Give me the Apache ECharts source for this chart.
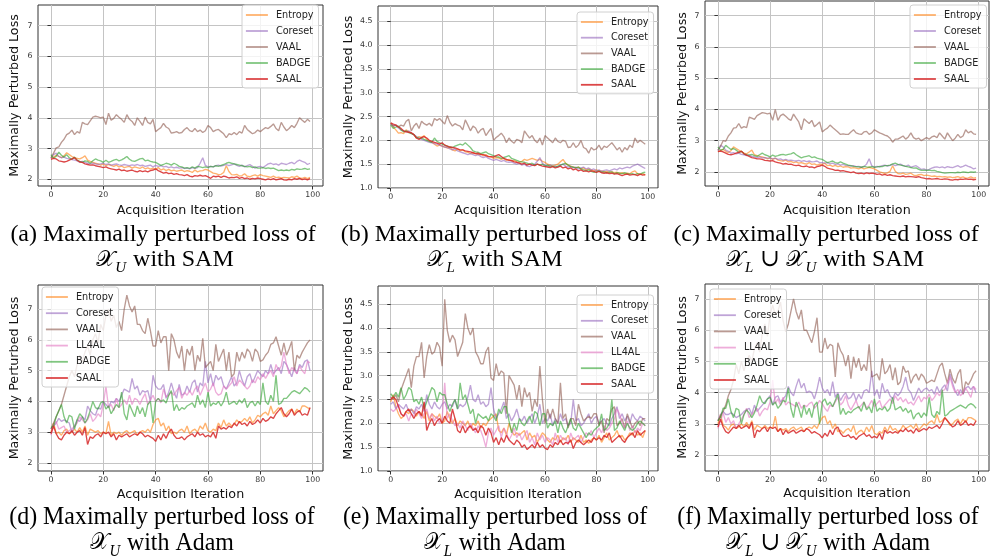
<!DOCTYPE html>
<html>
<head>
<meta charset="utf-8">
<script src="https://cdn.jsdelivr.net/npm/echarts@6/dist/echarts.min.js"></script>
<style>
  html, body { margin: 0; padding: 0; background: #fff; }
  #chart { width: 990px; height: 558px; }
</style>
</head>
<body>
<div id="chart"></div>
<script>
// tick values
const xTicks = [0, 20, 40, 60, 80, 100]
const yTicksWide = [2, 3, 4, 5, 6, 7]
const yTicksL = [1.0, 1.5, 2.0, 2.5, 3.0, 3.5, 4.0, 4.5]

// (a) X_U with SAM
const entA = [2.70,2.72,2.78,2.74,2.70,2.76,2.86,2.80,2.74,2.70, 2.68,2.66,2.70,2.76,2.62,2.58,2.55,2.52,2.50,2.46, 2.50,2.44,2.48,2.45,2.42,2.46,2.40,2.43,2.38,2.40, 2.42,2.36,2.40,2.38,2.35,2.40,2.34,2.37,2.33,2.36, 2.32,2.38,2.30,2.34,2.28,2.32,2.27,2.30,2.26,2.28, 2.30,2.25,2.28,2.26,2.22,2.30,2.24,2.27,2.28,2.32, 2.30,2.25,2.20,2.18,2.15,2.16,2.22,2.44,2.25,2.15, 2.14,2.16,2.10,2.12,2.18,2.10,2.08,2.12,2.14,2.10, 2.15,2.12,2.10,2.08,2.06,2.10,2.05,2.07,2.04,2.06, 2.05,2.04,2.08,2.06,2.10,2.04,2.03,2.06,2.02,2.06]
const corA = [2.68,2.80,2.85,2.74,2.70,2.72,2.68,2.66,2.64,2.62, 2.60,2.56,2.58,2.55,2.52,2.50,2.52,2.50,2.48,2.50, 2.52,2.48,2.50,2.46,2.48,2.50,2.47,2.45,2.48,2.46, 2.44,2.47,2.45,2.48,2.44,2.46,2.42,2.44,2.46,2.40, 2.45,2.42,2.44,2.40,2.42,2.38,2.40,2.37,2.39,2.36, 2.38,2.35,2.36,2.34,2.38,2.35,2.38,2.52,2.70,2.45, 2.40,2.42,2.40,2.44,2.46,2.43,2.45,2.48,2.44,2.47, 2.50,2.45,2.42,2.46,2.40,2.44,2.48,2.42,2.36,2.40, 2.42,2.38,2.44,2.50,2.52,2.48,2.50,2.46,2.52,2.50, 2.48,2.52,2.55,2.50,2.58,2.62,2.58,2.55,2.48,2.52]
const vaalA = [2.70,2.85,3.02,3.05,3.20,3.30,3.45,3.50,3.60,3.45, 3.55,3.50,3.85,3.80,3.78,3.90,4.02,4.05,4.03,4.00, 4.02,3.78,4.15,3.92,3.98,4.10,4.02,3.95,3.85,4.10, 3.95,3.88,3.75,4.00,3.88,3.75,4.02,3.85,3.80,3.95, 3.55,3.62,3.68,3.82,3.70,3.65,3.50,3.52,3.55,3.50, 3.52,3.62,3.68,3.58,3.55,3.65,3.55,3.60,3.52,3.58, 3.75,3.68,3.55,3.60,3.62,3.55,3.48,3.35,3.48,3.45, 3.52,3.45,3.55,3.50,3.75,3.62,3.55,3.48,3.52,3.60, 3.55,3.62,3.68,3.65,3.72,3.80,3.65,3.58,3.85,3.70, 3.58,3.65,3.75,3.68,3.82,4.00,3.92,3.85,3.95,3.88]
const badA = [2.80,2.68,2.75,2.88,2.78,2.72,2.80,2.70,2.65,2.72, 2.62,2.58,2.55,2.60,2.58,2.52,2.60,2.66,2.62,2.60, 2.55,2.62,2.55,2.58,2.62,2.65,2.60,2.63,2.68,2.74, 2.65,2.60,2.58,2.62,2.66,2.68,2.60,2.62,2.58,2.56, 2.55,2.50,2.45,2.48,2.52,2.50,2.46,2.52,2.48,2.42, 2.40,2.36,2.38,2.35,2.40,2.36,2.42,2.40,2.38,2.40, 2.38,2.42,2.40,2.44,2.42,2.45,2.48,2.52,2.55,2.52, 2.50,2.48,2.46,2.44,2.42,2.40,2.42,2.38,2.40,2.36, 2.36,2.38,2.35,2.37,2.35,2.36,2.32,2.28,2.30,2.28, 2.30,2.28,2.32,2.30,2.34,2.32,2.33,2.35,2.32,2.34]
const saalA = [2.65,2.68,2.66,2.60,2.58,2.56,2.58,2.62,2.66,2.70, 2.62,2.56,2.55,2.50,2.48,2.46,2.47,2.44,2.42,2.40, 2.38,2.40,2.36,2.34,2.32,2.30,2.33,2.28,2.30,2.26, 2.28,2.30,2.26,2.24,2.28,2.25,2.27,2.24,2.28,2.30, 2.34,2.28,2.24,2.20,2.22,2.18,2.20,2.16,2.18,2.15, 2.14,2.12,2.15,2.10,2.08,2.12,2.10,2.13,2.10,2.12, 2.08,2.03,2.10,2.08,2.10,2.06,2.10,2.08,2.04,2.06, 2.05,2.08,2.03,2.06,2.02,2.04,2.00,2.03,2.01,2.04, 2.02,2.00,1.98,2.01,1.99,2.02,1.98,2.00,2.02,1.98, 1.97,2.00,1.98,2.02,2.00,2.03,1.99,2.01,1.98,2.02]

// (b) X_L with SAM
const entB = [2.36,2.28,2.22,2.15,2.16,2.14,2.22,2.18,2.15,2.12, 2.05,2.08,2.06,2.10,2.02,1.98,1.96,1.92,1.88,1.90, 1.88,1.86,1.84,1.85,1.80,1.78,1.82,1.78,1.80,1.76, 1.75,1.72,1.74,1.72,1.70,1.72,1.68,1.70,1.66,1.65, 1.62,1.64,1.63,1.60,1.62,1.58,1.60,1.56,1.58,1.55, 1.54,1.56,1.60,1.58,1.60,1.62,1.60,1.58,1.60,1.56, 1.54,1.50,1.48,1.46,1.48,1.50,1.55,1.60,1.52,1.48, 1.46,1.44,1.42,1.44,1.40,1.42,1.38,1.40,1.38,1.36, 1.38,1.35,1.36,1.34,1.35,1.33,1.34,1.32,1.33,1.31, 1.32,1.30,1.31,1.30,1.34,1.36,1.30,1.28,1.30,1.27]
const corB = [2.34,2.30,2.32,2.26,2.22,2.20,2.18,2.20,2.15,2.12, 2.08,2.05,2.02,2.00,1.98,1.96,1.95,1.93,1.92,1.90, 1.88,1.86,1.85,1.82,1.80,1.82,1.78,1.76,1.74,1.72, 1.70,1.72,1.70,1.68,1.70,1.66,1.64,1.66,1.62,1.60, 1.58,1.60,1.58,1.56,1.58,1.55,1.54,1.55,1.52,1.50, 1.52,1.48,1.50,1.46,1.45,1.48,1.50,1.56,1.64,1.52, 1.48,1.46,1.48,1.45,1.46,1.44,1.48,1.50,1.46,1.44, 1.45,1.42,1.44,1.40,1.42,1.44,1.40,1.42,1.38,1.40, 1.36,1.38,1.35,1.37,1.38,1.36,1.38,1.40,1.38,1.42, 1.40,1.42,1.44,1.42,1.46,1.48,1.50,1.47,1.44,1.41]
const vaalB = [2.36,2.30,2.32,2.28,2.32,2.30,2.40,2.44,2.20,2.30, 2.36,2.25,2.40,2.35,2.32,2.36,2.30,2.46,2.42,2.46, 2.40,2.34,2.52,2.38,2.30,2.35,2.32,2.30,2.22,2.43, 2.32,2.20,2.30,2.26,2.15,2.22,2.25,2.10,2.18,2.25, 2.00,2.06,2.10,2.15,2.08,1.95,2.05,1.98,1.94,2.02, 2.00,1.95,2.20,2.12,2.05,2.10,2.00,1.95,2.05,1.90, 2.10,2.05,2.00,1.95,2.05,1.98,1.95,2.00,1.98,1.85, 1.86,1.95,1.85,1.90,2.00,1.85,1.82,1.73,1.85,1.80, 1.82,1.90,1.80,1.88,1.85,1.90,1.95,1.88,1.80,1.85, 1.75,1.85,1.80,1.90,1.85,2.05,1.95,2.00,1.96,1.92]
const badB = [2.32,2.25,2.28,2.30,2.22,2.18,2.20,2.16,2.14,2.12, 2.06,2.04,2.05,2.02,2.00,1.98,1.96,2.05,1.98,1.95, 1.92,1.90,1.88,1.86,1.85,1.88,1.90,1.92,1.90,1.95, 1.90,1.85,1.78,1.76,1.75,1.72,1.74,1.76,1.72,1.70, 1.68,1.66,1.65,1.62,1.64,1.66,1.68,1.62,1.60,1.58, 1.56,1.55,1.54,1.52,1.50,1.52,1.48,1.50,1.48,1.50, 1.46,1.48,1.45,1.46,1.44,1.46,1.48,1.50,1.52,1.48, 1.45,1.44,1.42,1.44,1.40,1.38,1.36,1.38,1.35,1.33, 1.34,1.36,1.33,1.34,1.32,1.33,1.34,1.30,1.32,1.31, 1.30,1.32,1.30,1.29,1.30,1.28,1.30,1.29,1.32,1.33]
const saalB = [2.37,2.34,2.32,2.28,2.25,2.20,2.18,2.17,2.16,2.12, 2.05,2.02,2.06,2.08,2.05,2.00,1.98,1.96,1.94,1.92, 1.95,1.90,1.88,1.86,1.85,1.84,1.82,1.80,1.80,1.78, 1.77,1.76,1.74,1.72,1.73,1.70,1.70,1.68,1.66,1.66, 1.65,1.68,1.70,1.66,1.62,1.60,1.58,1.58,1.55,1.54, 1.52,1.50,1.52,1.48,1.50,1.48,1.47,1.50,1.48,1.46, 1.45,1.44,1.43,1.45,1.42,1.44,1.46,1.42,1.44,1.40, 1.42,1.38,1.40,1.36,1.38,1.35,1.36,1.34,1.36,1.35, 1.33,1.35,1.32,1.31,1.32,1.30,1.31,1.29,1.30,1.28, 1.26,1.28,1.29,1.27,1.28,1.28,1.26,1.29,1.27,1.28]

// (c) X_L u X_U with SAM
const entC = [2.65,2.68,2.72,2.66,2.62,2.68,2.80,2.75,2.70,2.66, 2.60,2.58,2.64,2.70,2.55,2.52,2.50,2.48,2.46,2.42, 2.45,2.40,2.44,2.38,2.36,2.35,2.38,2.32,2.34,2.30, 2.32,2.28,2.30,2.27,2.25,2.30,2.24,2.26,2.22,2.25, 2.24,2.28,2.20,2.22,2.18,2.21,2.17,2.19,2.15,2.17, 2.16,2.12,2.14,2.12,2.10,2.14,2.10,2.12,2.15,2.12, 2.10,2.05,2.00,1.98,1.95,1.97,2.02,2.20,2.02,1.95, 1.94,1.96,1.92,1.94,1.96,1.90,1.88,1.91,1.92,1.88, 1.90,1.88,1.86,1.87,1.85,1.86,1.84,1.85,1.83,1.84, 1.82,1.83,1.85,1.82,1.84,1.80,1.81,1.84,1.80,1.82]
const corC = [2.68,2.85,2.80,2.70,2.66,2.60,2.62,2.58,2.60,2.56, 2.55,2.52,2.54,2.50,2.48,2.46,2.48,2.45,2.46,2.44, 2.45,2.42,2.44,2.40,2.42,2.38,2.40,2.37,2.38,2.36, 2.35,2.37,2.34,2.36,2.33,2.35,2.32,2.33,2.35,2.30, 2.30,2.28,2.30,2.26,2.28,2.24,2.26,2.22,2.24,2.21, 2.20,2.19,2.20,2.17,2.18,2.15,2.17,2.25,2.42,2.20, 2.15,2.18,2.16,2.20,2.22,2.19,2.21,2.24,2.20,2.23, 2.25,2.20,2.18,2.22,2.15,2.18,2.20,2.14,2.08,2.10, 2.06,2.08,2.12,2.15,2.16,2.14,2.16,2.13,2.17,2.15, 2.14,2.17,2.20,2.15,2.18,2.22,2.18,2.15,2.10,2.12]
const vaalC = [2.70,2.82,3.00,2.98,3.15,3.25,3.40,3.42,3.55,3.40, 3.45,3.42,3.75,3.72,3.68,3.80,3.85,3.90,3.88,3.86, 3.88,3.65,4.00,3.65,3.80,3.85,3.78,3.70,3.65,3.85, 3.72,3.60,3.35,3.70,3.62,3.55,3.65,3.45,3.52,3.60, 3.28,3.35,3.40,3.50,3.42,3.35,3.28,3.20,3.22,3.20, 3.20,3.28,3.35,3.25,3.22,3.20,3.28,3.30,3.20,3.25, 3.35,3.30,3.25,3.22,3.18,3.15,3.08,2.95,3.05,3.05, 3.10,3.15,3.05,3.12,3.25,3.10,3.05,3.08,3.00,3.05, 3.10,3.05,3.12,3.15,3.10,3.25,3.15,3.05,3.25,3.12, 3.00,3.08,3.20,3.10,3.15,3.35,3.25,3.30,3.22,3.20]
const badC = [2.80,2.70,2.72,2.85,2.78,2.72,2.75,2.70,2.62,2.66, 2.58,2.55,2.54,2.56,2.52,2.50,2.55,2.60,2.55,2.52, 2.48,2.54,2.50,2.52,2.55,2.56,2.54,2.56,2.58,2.62, 2.55,2.50,2.45,2.48,2.50,2.52,2.46,2.48,2.44,2.42, 2.40,2.35,2.30,2.32,2.35,2.30,2.28,2.32,2.28,2.25, 2.22,2.20,2.18,2.17,2.16,2.15,2.18,2.16,2.15,2.17, 2.15,2.16,2.18,2.17,2.20,2.20,2.22,2.26,2.28,2.24, 2.22,2.20,2.18,2.16,2.14,2.12,2.13,2.08,2.05,2.06, 2.05,2.06,2.04,2.05,2.02,2.00,1.98,1.96,1.97,1.98, 1.98,1.97,1.99,1.98,2.00,1.99,1.98,2.00,1.99,2.00]
const saalC = [2.65,2.67,2.64,2.60,2.56,2.55,2.57,2.60,2.63,2.66, 2.58,2.54,2.50,2.46,2.44,2.42,2.42,2.40,2.37,2.36, 2.35,2.36,2.32,2.30,2.28,2.25,2.27,2.24,2.25,2.22, 2.20,2.22,2.18,2.17,2.19,2.15,2.16,2.13,2.17,2.19, 2.22,2.18,2.12,2.10,2.08,2.05,2.06,2.03,2.04,2.02, 2.00,1.98,2.00,1.96,1.95,1.96,1.94,1.97,1.95,1.96, 1.95,1.92,1.94,1.90,1.92,1.89,1.91,1.88,1.87,1.86, 1.85,1.87,1.84,1.86,1.85,1.84,1.83,1.85,1.82,1.80, 1.78,1.79,1.77,1.78,1.79,1.77,1.76,1.78,1.77,1.75, 1.74,1.76,1.75,1.77,1.76,1.78,1.76,1.77,1.75,1.76]

// (d) X_U with Adam
const entD = [3.0,3.3,2.95,3.0,2.9,3.05,3.1,2.95,3.0,3.1, 3.0,3.15,3.0,3.2,2.9,3.1,3.05,3.0,3.05,2.95, 3.0,2.95,3.35,2.9,3.0,2.95,3.0,2.9,3.0,3.05, 2.95,3.0,3.05,2.9,3.0,3.05,3.0,3.1,3.0,3.25, 3.4,3.45,3.2,3.3,3.05,3.2,2.95,3.0,2.95,3.05, 3.1,3.0,3.2,2.95,3.05,3.1,3.0,3.2,3.1,3.3, 3.05,3.0,3.1,3.05,3.3,3.15,3.4,3.2,3.3,3.2, 3.25,3.4,3.3,3.35,3.45,3.35,3.5,3.3,3.4,3.55, 3.5,3.6,3.65,3.55,3.85,3.6,3.7,3.8,3.7,3.5, 3.6,3.7,3.75,3.6,3.75,3.65,3.85,3.85,3.8,3.75]
const corD = [3.1,3.2,3.3,3.45,3.35,3.4,3.35,3.3,3.0,3.2, 3.4,3.35,3.5,3.4,3.85,3.7,3.6,3.55,3.8,3.75, 4.0,3.9,3.8,4.0,3.95,4.1,4.0,4.2,4.4,4.35, 4.3,4.75,4.4,4.5,4.2,4.35,4.3,4.35,4.0,4.85, 4.5,4.4,4.4,4.55,4.1,4.3,4.6,4.3,4.1,4.55, 4.2,4.25,4.5,4.3,4.6,4.7,4.3,4.6,4.5,5.3, 4.6,4.9,4.5,4.85,4.7,4.8,4.5,4.4,4.6,4.8, 4.5,4.6,5.0,4.7,4.5,4.8,4.9,4.6,4.8,5.0, 4.9,4.8,5.0,4.9,5.2,4.9,5.0,5.1,4.9,5.3, 5.2,5.0,4.8,5.1,4.9,5.2,5.1,5.3,5.35,5.0]
const vaalD = [3.1,3.3,3.5,3.7,3.9,4.2,4.5,4.8,5.0,4.8, 5.2,5.5,5.3,5.6,5.8,5.5,6.0,6.2,5.9,6.5, 6.3,6.8,7.0,6.6,6.8,6.4,6.6,6.3,7.0,7.45, 7.1,6.9,7.1,6.5,6.5,6.3,6.2,6.7,6.3,5.8, 5.8,6.3,5.9,6.1,6.1,5.0,6.2,6.0,5.6,5.4, 5.8,5.0,5.7,5.5,5.8,5.0,5.5,5.3,6.05,5.1, 5.2,5.3,5.0,5.85,5.3,5.5,5.7,5.0,5.6,4.8, 4.9,5.6,5.3,5.6,5.4,5.7,5.6,5.3,5.7,5.6, 5.3,5.35,5.5,5.6,5.85,5.9,6.1,5.8,5.5,5.9, 5.5,5.7,5.95,5.0,5.5,5.4,5.6,5.75,5.9,6.0]
const llD = [2.9,3.2,3.35,3.1,3.15,3.2,3.0,3.05,3.1,3.2, 3.3,3.5,3.4,3.3,3.4,3.6,3.35,3.45,3.6,3.5, 3.9,4.5,3.8,3.9,3.7,4.1,3.8,3.9,4.05,3.9, 4.2,3.9,4.1,4.05,3.9,4.1,4.25,3.9,4.05,4.2, 4.0,4.1,3.95,4.4,4.15,4.2,4.3,4.2,4.35,4.45, 4.1,4.3,4.2,4.35,4.2,4.4,4.5,4.2,4.4,4.6, 4.3,4.4,4.6,4.3,4.2,4.25,4.5,4.4,4.5,4.6, 4.8,4.5,4.7,4.6,4.5,4.4,4.5,4.7,4.6,4.8, 4.7,4.9,4.75,4.9,5.0,4.8,5.2,5.0,5.15,5.6, 5.2,4.9,5.1,5.0,4.9,5.15,5.0,4.9,5.3,5.25]
const badD = [3.15,3.2,3.5,3.7,3.9,3.5,3.3,3.55,3.5,3.1, 3.4,3.6,3.5,3.3,3.45,3.7,4.0,3.8,3.75,3.95, 4.0,3.75,3.85,3.6,3.75,3.9,3.8,4.3,3.6,3.4, 3.9,3.7,3.5,3.85,3.6,3.8,3.5,3.9,4.0,3.3, 4.0,4.1,4.0,4.05,3.95,4.2,4.35,3.7,3.9,3.7, 3.8,3.75,3.85,3.9,3.95,3.8,4.2,3.9,4.05,3.8, 4.3,3.85,3.95,3.9,4.0,3.85,4.0,4.3,3.9,3.95, 4.0,3.9,4.05,3.95,4.1,3.8,3.95,4.0,3.85,4.0, 3.9,4.6,4.0,3.9,4.2,4.0,4.85,3.9,3.95,4.1, 4.1,4.2,4.3,4.35,4.3,4.25,4.35,4.45,4.4,4.3]
const saalD = [2.95,3.2,2.95,2.8,2.75,2.9,3.0,2.95,3.05,2.9, 3.0,3.05,2.9,3.15,2.6,2.85,2.8,2.9,2.95,2.85, 3.0,2.95,3.0,2.85,2.95,2.75,2.9,2.85,2.9,2.95, 2.85,2.9,2.95,2.9,3.0,2.95,2.85,2.9,2.85,2.8, 2.7,2.9,2.75,2.95,2.8,3.0,3.1,2.9,2.8,2.8, 2.85,2.75,2.85,2.9,2.95,2.85,3.0,2.9,2.95,2.85, 2.9,2.85,3.0,2.8,3.2,3.1,3.15,3.1,3.2,3.15, 3.3,3.2,3.35,3.25,3.3,3.2,3.35,3.25,3.3,3.4, 3.3,3.45,3.35,3.4,3.5,3.45,3.6,3.7,3.8,3.6, 3.5,3.6,3.75,3.55,3.65,3.7,3.55,3.6,3.55,3.8]

// (e) X_L with Adam
const entE = [2.45,2.6,2.35,2.2,2.1,2.15,2.25,2.2,2.3,2.25, 2.15,2.25,2.2,2.1,2.25,2.05,2.2,2.15,2.1,2.2, 2.0,2.05,2.25,2.1,2.0,2.1,1.95,2.05,2.0,1.95, 2.05,1.9,2.0,1.95,2.05,1.9,2.0,1.95,2.05,2.1, 2.15,2.2,1.85,1.8,1.9,1.75,2.0,1.85,1.75,1.8, 1.75,1.8,1.85,1.65,1.8,1.7,1.75,1.6,1.7,1.8, 1.75,1.65,1.6,1.7,1.65,1.75,1.6,1.7,1.65,1.75, 1.6,1.7,1.65,1.6,1.75,1.6,1.65,1.58,1.65,1.7, 1.65,1.75,1.6,1.7,1.8,1.65,1.7,1.75,1.85,1.7, 1.75,1.65,1.7,1.8,1.75,1.85,1.75,1.8,1.7,1.85]
const corE = [2.4,2.45,2.3,2.4,2.35,2.3,2.4,2.25,2.3,2.2, 2.35,2.3,2.4,2.25,2.6,2.4,2.3,2.45,2.35,2.3, 2.4,2.45,2.3,2.4,2.35,2.5,2.3,2.4,2.35,2.4, 2.55,2.8,2.5,2.45,2.6,2.4,2.45,2.35,2.4,2.75, 2.3,2.1,2.2,2.3,2.45,2.1,2.2,2.05,2.15,2.3, 2.1,2.05,2.15,2.0,2.1,2.2,2.0,2.15,2.4,2.0, 2.1,2.05,2.2,1.95,2.1,2.0,2.2,2.05,2.1,1.95, 2.0,2.5,2.05,2.1,1.95,2.0,2.1,2.2,2.0,2.1, 2.15,2.0,2.05,2.1,2.0,1.95,2.1,2.2,2.35,2.1, 2.2,2.05,2.15,2.0,2.2,2.1,2.05,2.15,2.1,2.05]
const vaalE = [2.55,2.5,2.6,2.45,2.7,2.85,3.0,3.15,2.75,3.2, 3.4,3.4,3.7,2.95,3.4,3.65,3.45,3.5,3.7,3.6, 3.2,4.6,3.95,3.7,3.85,3.75,3.4,3.55,3.7,4.3, 4.0,3.85,4.0,3.5,3.4,3.25,3.25,3.5,3.6,2.95, 2.9,3.25,3.0,3.1,3.05,2.2,3.0,2.9,2.8,2.5, 2.8,2.35,2.75,2.55,2.65,2.25,2.5,2.35,3.2,2.5, 2.0,2.3,2.1,2.3,2.1,2.0,2.85,2.1,2.2,1.9, 2.1,2.1,1.95,2.4,2.2,2.05,2.1,2.15,2.1,2.2, 2.2,1.95,2.05,1.8,2.1,2.05,2.3,2.35,1.95,2.0, 2.1,1.9,2.2,2.05,1.9,2.0,2.05,1.95,2.1,2.1]
const llE = [2.3,2.25,2.3,2.4,2.2,2.15,2.2,2.05,2.2,2.15, 2.3,2.2,2.1,2.2,2.3,2.1,2.2,2.05,2.15,2.0, 2.1,2.85,2.1,2.2,2.05,1.95,2.0,1.9,2.05,1.95, 1.85,2.0,1.9,1.8,1.95,1.85,1.7,1.5,1.8,1.9, 1.75,1.85,1.95,1.7,1.9,1.8,1.65,1.75,1.9,1.7, 1.8,1.65,1.75,1.85,1.6,1.7,1.55,1.8,1.65,1.75, 1.6,1.7,1.65,1.55,1.8,1.6,1.75,1.65,1.7,1.55, 1.8,1.65,1.7,1.75,1.6,1.7,1.8,1.75,1.85,1.7, 1.8,1.9,1.8,1.95,1.85,1.9,2.0,2.1,2.3,2.2, 2.0,1.9,2.05,1.85,1.95,1.8,1.9,1.85,2.0,1.95]
const badE = [2.62,2.55,2.65,2.55,2.75,2.5,2.6,2.75,2.7,2.45, 2.5,2.4,2.55,2.3,2.45,2.6,2.75,2.7,2.45,2.65, 2.6,2.6,2.4,2.25,2.4,2.5,2.3,2.85,2.5,2.6, 2.4,2.2,2.3,2.0,2.2,2.15,2.1,2.15,2.05,2.2, 2.15,2.05,2.3,2.2,2.35,2.35,2.05,1.8,2.0,1.85, 2.1,2.0,1.95,2.05,2.15,2.0,2.25,2.2,1.95,2.2, 2.2,1.9,2.0,1.95,2.05,1.8,2.05,1.9,1.8,1.95, 2.1,1.9,1.85,2.0,1.9,1.8,1.7,1.8,1.75,1.85, 1.9,1.95,2.2,1.85,1.9,2.0,2.5,1.85,1.9,2.05, 1.95,1.85,2.0,1.9,1.85,1.9,2.0,2.05,2.0,1.95]
const saalE = [2.5,2.55,2.5,2.35,2.2,2.15,2.25,2.3,2.2,2.1, 2.2,2.25,2.15,2.45,1.85,2.0,2.1,1.95,2.05,2.1, 2.0,2.15,2.05,2.0,2.3,2.1,1.85,1.8,1.95,1.8, 1.9,1.95,1.85,1.9,1.8,1.95,1.9,1.75,1.9,1.8, 1.6,1.7,1.55,1.7,1.6,1.75,1.65,1.6,1.55,1.65, 1.6,1.5,1.55,1.45,1.5,1.55,1.48,1.6,1.5,1.55, 1.48,1.45,1.55,1.5,1.6,1.55,1.65,1.55,1.6,1.58, 1.65,1.47,1.6,1.65,1.6,1.55,1.6,1.65,1.6,1.7, 1.65,1.7,1.65,1.75,1.7,1.8,1.6,1.65,1.7,1.75, 1.65,1.6,1.7,1.75,1.8,1.7,1.85,1.75,1.8,1.85]

// (f) X_L u X_U with Adam
const entF = [3.0,3.3,2.95,2.9,2.8,2.95,3.0,2.85,2.9,3.0, 2.9,3.05,2.9,3.1,2.8,2.95,2.9,2.85,2.95,2.85, 2.9,2.85,3.25,2.75,2.85,2.8,2.85,2.75,2.85,2.9, 2.8,2.85,2.9,2.75,2.85,2.9,2.85,2.95,2.85,3.05, 3.2,3.25,3.0,3.1,2.85,3.0,2.75,2.8,2.7,2.8, 2.85,2.75,2.95,2.65,2.75,2.8,2.7,2.9,2.75,2.95, 2.7,2.65,2.75,2.7,2.9,2.75,2.95,2.8,2.85,2.75, 2.8,2.95,2.85,2.9,2.95,2.85,3.0,2.8,2.9,3.0, 2.95,3.05,3.1,3.0,3.3,3.05,3.1,3.2,3.1,2.95, 3.0,3.1,3.15,3.0,3.15,3.05,3.2,3.2,3.15,3.1]
const corF = [3.1,3.3,3.4,3.3,3.3,3.35,3.3,3.2,3.25,3.3, 3.4,3.45,3.5,3.3,3.6,3.4,3.5,3.6,3.7,3.8, 3.9,3.6,3.85,3.9,3.7,3.8,3.9,4.2,4.0,3.9, 4.2,4.45,4.15,4.3,4.0,4.05,4.0,3.8,4.1,4.5, 4.15,4.0,4.1,3.9,4.35,3.85,4.0,3.75,3.9,4.0, 3.8,3.85,4.0,3.75,3.95,3.8,4.05,4.1,4.0,4.7, 3.9,4.1,3.8,4.3,4.0,4.1,3.9,3.8,4.0,3.9, 4.0,4.2,4.5,4.1,4.0,3.75,3.95,4.15,4.0,4.1, 4.15,4.05,4.1,3.95,4.2,4.0,4.15,4.25,4.05,4.6, 4.3,4.05,3.9,4.1,3.95,4.15,4.2,4.1,4.2,4.0]
const vaalF = [3.1,3.25,3.4,3.6,3.9,4.1,4.4,4.9,4.6,5.0, 4.7,5.0,5.2,5.0,5.4,5.6,5.3,5.9,6.2,5.8, 6.5,6.8,6.5,6.6,6.9,6.3,5.95,6.2,6.6,7.0, 6.6,6.35,6.65,6.0,6.0,5.8,5.6,5.95,6.4,5.3, 5.3,5.75,5.4,5.55,5.5,4.5,5.6,5.35,5.2,4.85, 5.2,4.45,5.15,4.8,5.1,4.7,4.9,4.7,5.55,4.5, 4.55,4.6,4.4,5.1,4.6,4.7,4.9,4.4,4.8,4.25, 4.35,4.85,4.65,4.7,4.3,4.5,4.6,4.4,4.6,4.5, 4.3,4.35,4.4,4.35,4.6,4.85,4.95,4.6,4.3,4.75, 4.45,4.3,4.6,4.75,3.95,4.35,4.25,4.4,4.6,4.7]
const llF = [2.85,3.1,3.35,3.05,3.2,3.0,3.1,2.85,3.0,3.15, 3.3,3.5,3.2,3.3,3.4,3.5,3.25,3.4,3.5,3.45, 3.7,4.4,3.65,3.8,3.6,3.85,3.6,3.7,3.65,3.6, 3.55,3.7,3.5,3.6,3.55,3.65,3.7,3.5,3.6,3.75, 3.65,3.5,3.4,3.6,3.55,3.7,3.85,3.6,3.7,3.9, 3.6,3.45,3.6,3.75,3.5,3.6,3.7,3.5,3.6,3.75, 3.55,3.65,3.75,3.5,3.6,3.7,3.8,3.65,3.9,3.75, 3.85,3.7,3.8,3.65,3.7,3.6,3.75,3.9,3.7,3.85, 3.8,3.95,3.75,3.85,4.0,3.9,4.05,4.1,4.3,4.5, 4.2,4.0,4.1,3.9,4.0,4.15,4.0,3.85,4.2,4.1]
const badF = [3.1,3.2,3.5,3.5,3.8,3.4,3.2,3.5,3.45,3.0, 3.3,3.45,3.35,3.2,3.35,3.6,3.9,3.7,3.65,3.8, 3.85,3.6,3.7,3.5,3.6,3.75,3.7,4.15,3.5,3.2, 3.7,3.5,3.2,3.6,3.3,3.5,3.2,3.6,3.7,3.0, 3.7,3.8,3.6,3.7,3.55,3.75,3.95,3.3,3.5,3.3, 3.4,3.35,3.45,3.5,3.55,3.4,3.7,3.45,3.55,3.35, 3.8,3.4,3.5,3.45,3.55,3.4,3.5,3.85,3.45,3.5, 3.55,3.4,3.5,3.35,3.45,3.15,3.3,3.35,3.2,3.35, 3.25,3.85,3.3,3.2,3.4,3.3,4.1,3.25,3.3,3.4, 3.45,3.5,3.55,3.6,3.55,3.5,3.6,3.65,3.6,3.5]
const saalF = [2.9,3.15,2.9,2.75,2.7,2.8,2.9,2.85,2.95,2.85, 2.9,2.95,2.85,3.05,2.55,2.8,2.75,2.85,2.9,2.75, 2.9,2.85,2.9,2.75,2.85,2.65,2.8,2.7,2.75,2.8, 2.7,2.75,2.8,2.75,2.85,2.8,2.7,2.75,2.7,2.65, 2.55,2.7,2.6,2.8,2.65,2.85,2.9,2.7,2.6,2.6, 2.65,2.55,2.6,2.5,2.6,2.65,2.7,2.6,2.65,2.55, 2.6,2.55,2.7,2.5,2.8,2.7,2.75,2.7,2.75,2.7, 2.8,2.75,2.85,2.75,2.8,2.7,2.85,2.75,2.8,2.85, 2.8,2.9,2.85,2.9,2.95,2.85,3.0,3.2,3.1,3.0, 2.9,2.95,3.1,2.95,3.0,3.1,2.95,3.0,2.95,3.1]

const COLORS = {
  Entropy: 'rgba(255,127,14,0.6)',
  Coreset: 'rgba(148,103,189,0.6)',
  VAAL: 'rgba(140,86,75,0.6)',
  LL4AL: 'rgba(227,119,194,0.6)',
  BADGE: 'rgba(44,160,44,0.6)',
  SAAL: 'rgba(214,39,40,0.85)'
}

const panels = [
  { grid: {left: 38, top: 5, width: 285, height: 181}, ymin: 1.78, ymax: 7.67, yticks: yTicksWide,
    legend: {left: 242, top: 5}, gap: 6, yGap: 17, xGap: 18,
    series: [['Entropy', entA], ['Coreset', corA], ['VAAL', vaalA], ['BADGE', badA], ['SAAL', saalA]] },
  { grid: {left: 378, top: 6, width: 280, height: 182}, ymin: 1.0, ymax: 4.82, yticks: yTicksL,
    legend: {left: 577, top: 12}, gap: 5.7, yGap: 23, xGap: 16,
    series: [['Entropy', entB], ['Coreset', corB], ['VAAL', vaalB], ['BADGE', badB], ['SAAL', saalB]] },
  { grid: {left: 705, top: 1, width: 284, height: 185}, ymin: 1.55, ymax: 7.47, yticks: yTicksWide,
    legend: {left: 910, top: 5}, gap: 6, yGap: 16, xGap: 18,
    series: [['Entropy', entC], ['Coreset', corC], ['VAAL', vaalC], ['BADGE', badC], ['SAAL', saalC]] },
  { grid: {left: 38, top: 285, width: 285, height: 186}, ymin: 1.74, ymax: 7.78, yticks: yTicksWide,
    legend: {left: 42, top: 287}, gap: 6.2, yGap: 17, xGap: 17,
    series: [['Entropy', entD], ['Coreset', corD], ['VAAL', vaalD], ['LL4AL', llD], ['BADGE', badD], ['SAAL', saalD]] },
  { grid: {left: 378, top: 286, width: 280, height: 185}, ymin: 1.0, ymax: 4.88, yticks: yTicksL,
    legend: {left: 577, top: 295}, gap: 5.8, yGap: 23, xGap: 17,
    series: [['Entropy', entE], ['Coreset', corE], ['VAAL', vaalE], ['LL4AL', llE], ['BADGE', badE], ['SAAL', saalE]] },
  { grid: {left: 705, top: 284, width: 284, height: 187}, ymin: 1.49, ymax: 7.48, yticks: yTicksWide,
    legend: {left: 710, top: 289}, gap: 6.2, yGap: 16, xGap: 16,
    series: [['Entropy', entF], ['Coreset', corF], ['VAAL', vaalF], ['LL4AL', llF], ['BADGE', badF], ['SAAL', saalF]] }
]

const tickFont = { fontSize: 7.8, color: '#333', fontFamily: 'DejaVu Sans' }
const nameFont = { fontSize: 12.7, color: '#111', fontFamily: 'DejaVu Sans' }

const grids = [], xAxes = [], yAxes = [], legends = [], series = []
panels.forEach((p, i) => {
  grids.push(Object.assign({ show: true, backgroundColor: '#fff', borderColor: '#333', borderWidth: 1 }, p.grid))
  xAxes.push({
    type: 'value', gridIndex: i, min: -4.95, max: 103.95,
    name: 'Acquisition Iteration', nameLocation: 'middle', nameGap: p.xGap, nameTextStyle: nameFont,
    axisLine: { show: false },
    axisTick: { show: true, length: 3.5, customValues: xTicks, lineStyle: { color: '#333' } },
    axisLabel: { customValues: xTicks, margin: 5, ...tickFont },
    splitLine: { show: true, lineStyle: { color: '#c4c4c4', width: 1 } }
  })
  yAxes.push({
    type: 'value', gridIndex: i, min: p.ymin, max: p.ymax,
    name: 'Maximally Perturbed Loss', nameLocation: 'middle', nameRotate: 90, nameGap: p.yGap, nameTextStyle: nameFont,
    axisLine: { show: false },
    axisTick: { show: true, length: 3.5, customValues: p.yticks, lineStyle: { color: '#333' } },
    axisLabel: { customValues: p.yticks, margin: 5.5, ...tickFont,
      formatter: v => (p.yticks === yTicksL ? v.toFixed(1) : String(v)) },
    splitLine: { show: true, lineStyle: { color: '#c4c4c4', width: 1 } }
  })
  legends.push({
    orient: 'vertical', left: p.legend.left, top: p.legend.top,
    data: p.series.map(s => s[0]),
    itemWidth: 22, itemHeight: 10, itemGap: p.gap,
    padding: [5, 5, 4, 3],
    backgroundColor: 'rgba(255,255,255,0.8)', borderColor: '#d0d0d0', borderWidth: 1, borderRadius: 3,
    itemStyle: { opacity: 0 },
    lineStyle: { width: 1.8 },
    textStyle: { fontSize: 9.7, color: '#222', fontFamily: 'DejaVu Sans', padding: [0, 0, 0, 3] },
    selectedMode: false
  })
  p.series.forEach(([name, vals]) => {
    series.push({
      name, type: 'line', xAxisIndex: i, yAxisIndex: i,
      data: vals.map((v, k) => [k, v]),
      symbol: 'none', silent: true,
      lineStyle: { width: 1.35, color: COLORS[name] },
      itemStyle: { color: COLORS[name] }
    })
  })
})

const capFamily = '"Liberation Serif", "DejaVu Serif", serif'
function caption(x, y, text, size, sx) {
  return { type: 'text', x: x, y: y, scaleX: sx || 1, silent: true,
    style: {
      text: text, align: 'center', verticalAlign: 'middle',
      fontFamily: capFamily, fontSize: size, fill: '#000',
      rich: {
        x: { fontFamily: '"DejaVu Sans", "DejaVu Serif", serif', fontSize: size - 2 },
        s: { fontFamily: capFamily, fontStyle: 'italic', fontSize: Math.round(size * 0.62), padding: [Math.round(size * 0.7), 1, 0, 0] }
      }
    } }
}

const option = {
  animation: false,
  backgroundColor: '#fff',
  grid: grids, xAxis: xAxes, yAxis: yAxes, legend: legends, series: series,
  graphic: [
    caption(163, 235, '(a) Maximally perturbed loss of', 24),
    caption(165, 260, '{x|𝒳}{s|U} with SAM', 24),
    caption(494, 235, '(b) Maximally perturbed loss of', 24),
    caption(495, 260, '{x|𝒳}{s|L} with SAM', 24),
    caption(826, 235, '(c) Maximally perturbed loss of', 24),
    caption(825, 260, '{x|𝒳}{s|L} ∪ {x|𝒳}{s|U} with SAM', 24),
    caption(162, 517, '(d) Maximally perturbed loss of', 26, 0.92),
    caption(162, 543, '{x|𝒳}{s|U} with Adam', 26, 0.92),
    caption(495, 517, '(e) Maximally perturbed loss of', 26, 0.92),
    caption(495, 543, '{x|𝒳}{s|L} with Adam', 26, 0.92),
    caption(828, 517, '(f) Maximally perturbed loss of', 26, 0.92),
    caption(828, 543, '{x|𝒳}{s|L} ∪ {x|𝒳}{s|U} with Adam', 26, 0.92)
  ]
}

const chart = echarts.init(document.getElementById('chart'))
chart.setOption(option)
</script>
</body>
</html>
